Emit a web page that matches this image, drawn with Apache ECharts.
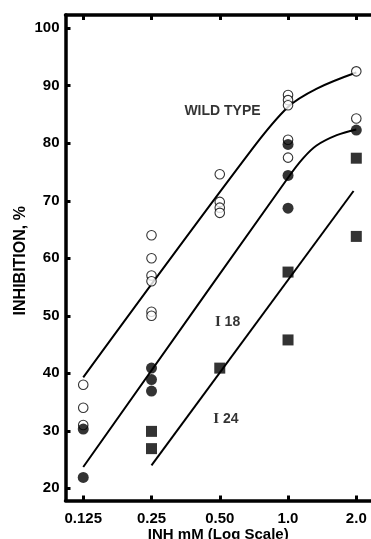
<!DOCTYPE html>
<html>
<head>
<meta charset="utf-8">
<script src="https://cdn.jsdelivr.net/npm/echarts@6/dist/echarts.min.js"></script>
<style>
  html, body { margin: 0; padding: 0; background: #fff; }
  #chart { width: 371px; height: 539px; }
</style>
</head>
<body>
<div id="chart"></div>
<script>
// INH 농도별 저해율 (log2 축)
var xTicks = [0.125, 0.25, 0.5, 1, 2]
var xTickLabels = ['0.125', '0.25', '0.50', '1.0', '2.0']
var yTicks = [20, 30, 40, 50, 60, 70, 80, 90, 100]

// 측정점 [농도, 저해율]
var wildPoints = [
  [0.125, 38], [0.125, 34], [0.125, 31],
  [0.25, 64], [0.25, 60], [0.25, 57], [0.25, 56], [0.25, 50.7], [0.25, 50],
  [0.5, 74.6], [0.5, 69.8], [0.5, 68.8], [0.5, 67.9],
  [1, 88.4], [1, 87.5], [1, 86.6], [1, 80.6], [1, 77.5],
  [2, 92.5], [2, 84.3]
]
var i18Points = [
  [0.125, 30.3], [0.125, 21.9],
  [0.25, 40.9], [0.25, 38.9], [0.25, 36.9],
  [1, 79.8], [1, 74.4], [1, 68.7],
  [2, 82.3]
]
var i24Points = [
  [0.25, 29.9], [0.25, 26.9],
  [0.5, 40.9],
  [1, 57.6], [1, 45.8],
  [2, 77.4], [2, 63.8]
]

// 그림에서 읽은 곡선
var wildCurve = [[0.125, 39.3], [0.68, 78.5], [1, 86.3], [1.34, 89.5], [2, 92.3]]
var i18Curve = [[0.125, 23.7], [1.0, 74.0], [1.167, 77.4], [1.336, 79.6], [1.64, 81.4], [2, 82.4]]
var i24Curve = [[0.25, 24], [1.945, 71.7]]

// 곡선 이름 라벨 위치
var curveLabels = [
  { name: 'WILD TYPE', value: [0.514, 85.6] },
  { name: 'I18', value: [0.541, 48.9] },
  { name: 'I24', value: [0.532, 32.0] }
]

var chart = echarts.init(document.getElementById('chart'))

var font = 'Liberation Sans'

function xLabel(v) {
  for (var i = 0; i < xTicks.length; i++) {
    if (Math.abs(xTicks[i] - v) < 1e-6) return xTickLabels[i]
  }
  return ''
}

var xAxisBase = {
  type: 'log',
  logBase: 2,
  min: 0.1044,
  max: 2.322,
  axisLine: { show: true, lineStyle: { color: '#000', width: 3.5 } },
  axisTick: { show: true, inside: true, length: 5, customValues: xTicks, lineStyle: { color: '#000', width: 3 } },
  splitLine: { show: false },
  minorTick: { show: false },
  minorSplitLine: { show: false }
}

var option = {
  animation: false,
  backgroundColor: '#fff',
  grid: { left: 65.5, right: 0, top: 15, bottom: 38.5, outerBoundsMode: 'none', containLabel: false },
  xAxis: [
    Object.assign({}, xAxisBase, {
      position: 'bottom',
      name: 'INH mM (Log Scale)',
      nameLocation: 'middle',
      nameGap: 27,
      nameMoveOverlap: false,
      nameTextStyle: { color: '#000', fontFamily: font, fontWeight: 'bold', fontSize: 15 },
      axisLabel: {
        customValues: xTicks,
        formatter: xLabel,
        color: '#000',
        fontFamily: font,
        fontWeight: 'bold',
        fontSize: 15,
        margin: 11
      }
    }),
    Object.assign({}, xAxisBase, {
      position: 'top',
      axisLabel: { show: false }
    })
  ],
  yAxis: {
    type: 'value',
    min: 17.88,
    max: 102.3,
    name: 'INHIBITION, %',
    nameLocation: 'middle',
    nameGap: 37,
    nameMoveOverlap: false,
    nameTextStyle: { color: '#000', fontFamily: font, fontWeight: 'bold', fontSize: 16, padding: [0, 6, 0, 0] },
    axisLine: { show: true, lineStyle: { color: '#000', width: 3.5 } },
    axisTick: { show: true, inside: true, length: 5, customValues: yTicks, lineStyle: { color: '#000', width: 3 } },
    axisLabel: {
      customValues: yTicks,
      color: '#000',
      fontFamily: font,
      fontWeight: 'bold',
      fontSize: 15,
      margin: 6
    },
    splitLine: { show: false }
  },
  series: [
    {
      name: 'wild curve',
      type: 'line',
      data: wildCurve,
      smooth: 0.35,
      symbol: 'none',
      lineStyle: { color: '#000', width: 2 },
      z: 1
    },
    {
      name: 'I18 curve',
      type: 'line',
      data: i18Curve,
      smooth: 0.35,
      symbol: 'none',
      lineStyle: { color: '#000', width: 2 },
      z: 1
    },
    {
      name: 'I24 curve',
      type: 'line',
      data: i24Curve,
      symbol: 'none',
      lineStyle: { color: '#000', width: 2 },
      z: 1
    },
    {
      name: 'WILD TYPE',
      type: 'scatter',
      data: wildPoints,
      symbol: 'circle',
      symbolSize: 9.5,
      itemStyle: { color: '#fff', borderColor: '#000', borderWidth: 1.1 },
      z: 2
    },
    {
      name: 'I 18',
      type: 'scatter',
      data: i18Points,
      symbol: 'circle',
      symbolSize: 11,
      itemStyle: { color: '#000' },
      z: 3
    },
    {
      name: 'I 24',
      type: 'scatter',
      data: i24Points,
      symbol: 'rect',
      symbolSize: 11,
      itemStyle: { color: '#000' },
      z: 3
    },
    {
      name: 'labels',
      type: 'scatter',
      data: curveLabels,
      symbolSize: 0,
      silent: true,
      z: 4,
      label: {
        show: true,
        position: 'inside',
        color: '#000',
        fontFamily: font,
        fontWeight: 'bold',
        fontSize: 14,
        formatter: function (p) {
          if (p.name === 'I18') return '{s|I} 18'
          if (p.name === 'I24') return '{s|I} 24'
          return p.name
        },
        rich: {
          s: { fontFamily: 'Liberation Serif', fontWeight: 'bold', fontSize: 15, color: '#000' }
        }
      }
    }
  ]
}

chart.setOption(option)
</script>
</body>
</html>
